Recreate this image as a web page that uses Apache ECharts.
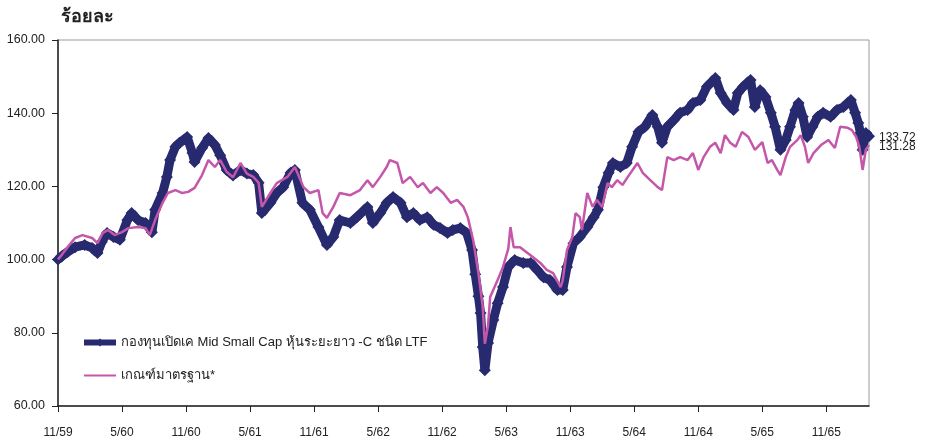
<!DOCTYPE html>
<html>
<head>
<meta charset="utf-8">
<script src="https://cdn.jsdelivr.net/npm/echarts@6/dist/echarts.min.js"></script>
<style>
  html, body { margin: 0; padding: 0; background: #fff; }
  #chart { width: 926px; height: 442px; }
</style>
</head>
<body>
<div id="chart"></div>
<script>
// Time is months since 11/2559 (Nov 2016)
const tickLabels = ['11/59', '5/60', '11/60', '5/61', '11/61', '5/62', '11/62', '5/63', '11/63', '5/64', '11/64', '5/65', '11/65'];
const tickMonths = [0, 6, 12, 18, 24, 30, 36, 42, 48, 54, 60, 66, 72];

const fundName = 'กองทุนเปิดเค Mid Small Cap หุ้นระยะยาว -C ชนิด LTF';
const benchName = 'เกณฑ์มาตรฐาน*';

const fundMonths = [0, 0.4, 0.9, 1.6, 2.5, 3.2, 3.7, 4.1, 4.6, 5.2, 5.8, 6.5, 6.9, 7.5, 8.2, 8.8, 9.1, 9.8, 10.2, 10.5,
  11.0, 11.4, 12.1, 12.6, 12.8, 13.5, 14.1, 14.7, 15.2, 15.8, 16.4, 17.1, 17.7, 18.3, 18.8, 19.1, 19.9, 20.5, 21.1, 21.8,
  22.2, 22.9, 23.6, 24.4, 25.2, 25.8, 26.4, 27.4, 28.0, 29.0, 29.5, 30.2, 30.8, 31.4, 32.1, 32.7, 33.3, 33.9, 34.6, 35.2,
  35.8, 36.5, 37.0, 37.7, 38.3, 38.8, 39.1, 39.4, 39.6, 39.8, 40.0, 40.3, 40.8, 41.2, 41.7, 42.2, 42.8, 43.6, 44.3, 44.9,
  45.5, 46.1, 46.8, 47.3, 47.7, 48.3, 48.9, 49.6, 50.2, 50.6, 51.1, 51.6, 52.0, 52.7, 53.3, 53.8, 54.4, 55.0, 55.7, 56.2,
  56.6, 57.1, 57.7, 58.3, 59.0, 59.5, 60.2, 60.8, 61.6, 62.1, 62.7, 63.3, 63.7, 64.2, 64.9, 65.3, 65.8, 66.3, 66.8, 67.2,
  67.7, 68.2, 68.6, 69.1, 69.4, 69.8, 70.2, 70.7, 71.2, 71.7, 72.4, 73.0, 73.6, 74.3, 74.7, 75.0, 75.2, 75.4, 75.7, 76.0];
const fundValues = [100.0, 101.0, 102.1, 103.4, 104.0, 103.2, 101.8, 104.8, 107.3, 106.2, 105.4, 110.8, 112.7, 110.8, 110.0, 107.5, 113.6, 118.2, 122.6, 127.2,
  130.8, 131.9, 133.5, 129.1, 126.7, 130.5, 133.2, 131.3, 128.5, 124.5, 123.0, 124.5, 123.5, 123.1, 121.0, 112.7, 115.5, 118.2, 119.8, 123.7,
  124.5, 115.5, 113.6, 108.9, 104.0, 106.2, 110.8, 110.0, 111.6, 114.4, 110.0, 112.7, 115.5, 117.1, 115.5, 111.6, 112.7, 110.8, 111.6, 109.5,
  108.6, 107.3, 108.1, 108.6, 107.3, 102.6, 96.0, 90.0, 85.4, 76.1, 69.8, 77.2, 83.5, 88.1, 92.5, 98.0, 99.9, 99.1, 99.1, 97.2,
  95.2, 94.4, 91.7, 91.7, 98.0, 104.5, 106.2, 108.9, 111.6, 113.6, 119.8, 123.7, 126.4, 125.3, 126.4, 130.8, 134.9, 136.3, 139.5, 136.3,
  131.9, 136.3, 138.1, 140.1, 140.9, 142.8, 143.6, 147.2, 149.6, 145.5, 142.8, 140.9, 145.5, 147.2, 149.1, 141.7, 146.3, 144.4, 140.1, 136.3,
  130.0, 132.7, 136.3, 140.9, 142.8, 139.0, 133.5, 136.3, 139.0, 140.1, 139.0, 140.9, 141.7, 143.6, 140.1, 137.3, 134.6, 130.0, 134.6, 133.72];

const benchMonths = [0, 0.4, 0.9, 1.6, 2.3, 3.2, 3.7, 4.2, 4.7, 5.3, 6.0, 6.6, 7.5, 8.2, 8.6, 9.1, 9.8, 10.3, 11.0, 11.6,
  12.2, 12.8, 13.5, 14.1, 14.7, 15.2, 15.8, 16.4, 17.1, 17.7, 18.3, 18.8, 19.1, 19.9, 20.5, 21.5, 22.2, 23.0, 23.6, 24.4,
  24.8, 25.2, 25.8, 26.4, 27.4, 28.3, 29.0, 29.5, 30.2, 30.8, 31.1, 31.8, 32.3, 33.0, 33.7, 34.2, 34.9, 35.5, 36.1, 36.8,
  37.4, 38.0, 38.4, 38.9, 39.4, 39.8, 40.0, 40.3, 40.5, 41.2, 41.7, 42.2, 42.4, 42.7, 43.3, 44.0, 44.5, 45.2, 45.8, 46.4,
  47.1, 47.3, 47.7, 48.2, 48.5, 48.9, 49.1, 49.6, 50.1, 50.5, 51.0, 51.5, 51.9, 52.4, 52.9, 53.4, 54.3, 54.8, 55.5, 56.2,
  56.6, 57.1, 57.7, 58.3, 59.0, 59.5, 60.0, 60.5, 61.1, 61.6, 62.1, 62.5, 63.0, 63.5, 64.1, 64.7, 65.3, 66.0, 66.5, 66.9,
  67.4, 67.7, 68.2, 68.6, 69.3, 69.6, 70.0, 70.3, 70.8, 71.5, 72.2, 72.8, 73.3, 74.0, 74.4, 74.8, 75.1, 75.4, 75.7, 76.0];
const benchValues = [100.0, 101.5, 103.4, 105.9, 106.7, 105.9, 104.5, 107.3, 108.1, 106.7, 107.5, 108.6, 108.9, 108.6, 106.7, 110.8, 115.5, 118.2, 119.0, 118.2,
  118.5, 119.6, 123.1, 127.2, 125.3, 127.2, 124.0, 122.5, 126.4, 123.5, 122.6, 121.0, 114.4, 118.2, 120.9, 122.6, 125.3, 119.8, 118.2, 119.0,
  112.7, 111.4, 114.4, 118.2, 117.6, 119.0, 121.7, 119.8, 122.6, 125.3, 127.2, 126.4, 120.9, 122.6, 119.8, 120.9, 118.2, 119.8, 118.2, 115.5,
  116.3, 114.4, 111.6, 105.4, 96.3, 87.1, 77.0, 82.0, 89.8, 94.4, 98.0, 103.0, 108.9, 103.4, 103.4, 101.8, 100.7, 99.1, 97.2, 96.3,
  92.5, 94.4, 102.6, 106.2, 112.7, 111.6, 108.1, 118.2, 114.4, 116.3, 114.4, 120.9, 119.8, 121.7, 120.4, 122.6, 126.4, 123.7, 121.7, 119.8,
  119.0, 128.0, 127.2, 128.0, 127.2, 129.1, 124.5, 128.0, 130.8, 131.9, 129.1, 134.0, 131.9, 130.8, 134.9, 133.5, 130.0, 132.1, 126.4, 127.2,
  124.5, 123.1, 128.0, 130.8, 132.7, 134.0, 130.8, 126.4, 129.1, 131.3, 132.7, 130.5, 136.3, 136.0, 135.4, 133.5, 130.8, 124.5, 130.0, 131.28];

const fundData = fundMonths.map((m, i) => [m, fundValues[i]]);
const benchData = benchMonths.map((m, i) => [m, benchValues[i]]);

const navy = '#282a70';
const pink = '#c457a9';

const chart = echarts.init(document.getElementById('chart'));
chart.setOption({
  animation: false,
  backgroundColor: '#ffffff',
  textStyle: { fontFamily: 'sans-serif' },
  title: {
    text: 'ร้อยละ',
    left: 56,
    top: 3,
    textStyle: { fontSize: 18, fontWeight: 'bold', color: '#222' }
  },
  legend: {
    orient: 'vertical',
    left: 76,
    top: 331,
    itemWidth: 32,
    itemHeight: 10,
    itemGap: 20,
    textStyle: { fontSize: 13, color: '#222' },
    data: [
      { name: fundName, lineStyle: { width: 6 } },
      { name: benchName, itemStyle: { color: 'rgba(0,0,0,0)', borderWidth: 0, opacity: 0 } }
    ]
  },
  grid: {
    left: 58,
    right: 57,
    top: 40,
    bottom: 36,
    show: true,
    borderColor: '#9a9a9a',
    borderWidth: 1
  },
  xAxis: {
    type: 'value',
    min: 0,
    max: 76,
    interval: 6,
    splitLine: { show: false },
    axisLine: { lineStyle: { color: '#222', width: 1.5 } },
    axisTick: { length: 6, lineStyle: { color: '#222' }, customValues: tickMonths },
    axisLabel: {
      customValues: tickMonths,
      margin: 21,
      fontSize: 12,
      color: '#222',
      formatter: v => tickLabels[tickMonths.indexOf(v)] || ''
    }
  },
  yAxis: {
    type: 'value',
    min: 60,
    max: 160,
    interval: 20,
    splitLine: { show: false },
    axisLine: { show: true, lineStyle: { color: '#222', width: 1.5 } },
    axisTick: { show: true, length: 6, lineStyle: { color: '#222' } },
    axisLabel: { fontSize: 12.5, color: '#222', margin: 13, formatter: v => v.toFixed(2) }
  },
  series: [
    {
      name: fundName,
      type: 'line',
      data: fundData,
      color: navy,
      lineStyle: { width: 9, color: navy },
      symbol: 'diamond',
      symbolSize: 12,
      showAllSymbol: true,
      itemStyle: { color: navy },
      endLabel: {
        show: true,
        formatter: () => fundValues[fundValues.length - 1].toFixed(2),
        color: '#222',
        fontSize: 12,
        distance: 10,
        offset: [0, 2]
      },
      z: 2
    },
    {
      name: benchName,
      type: 'line',
      data: benchData,
      color: pink,
      lineStyle: { width: 2.5, color: pink },
      showSymbol: false,
      symbol: 'none',
      endLabel: {
        show: true,
        formatter: () => benchValues[benchValues.length - 1].toFixed(2),
        color: '#222',
        fontSize: 12,
        distance: 10,
        offset: [0, 2]
      },
      z: 3
    }
  ]
});
</script>
</body>
</html>
